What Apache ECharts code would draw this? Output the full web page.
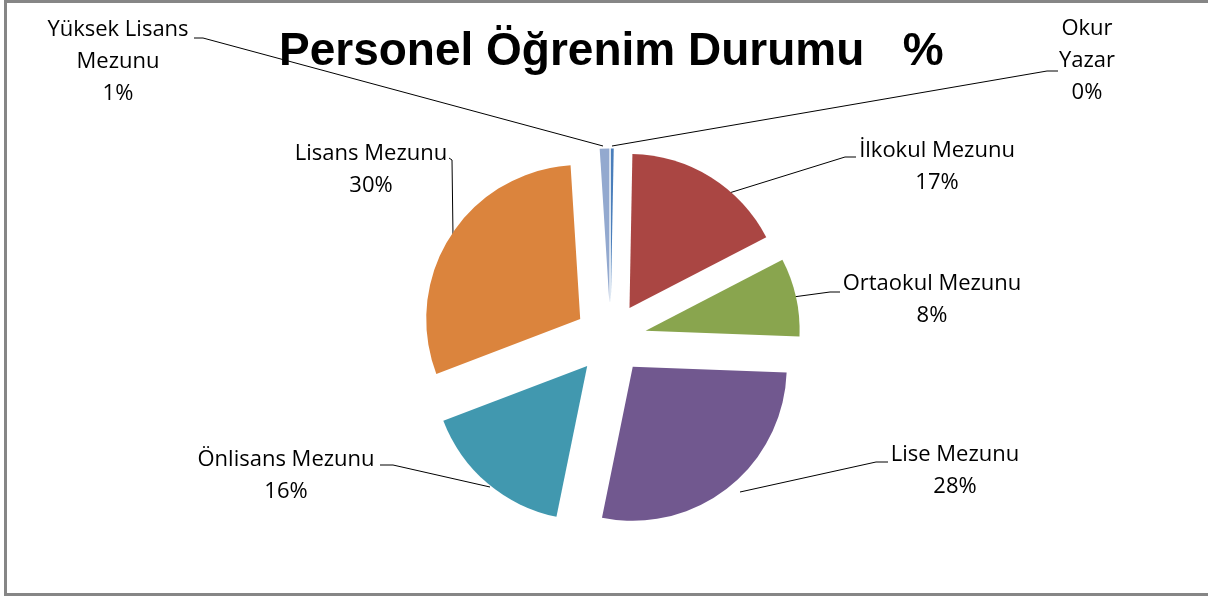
<!DOCTYPE html>
<html>
<head>
<meta charset="utf-8">
<script src="https://cdn.jsdelivr.net/npm/echarts@6/dist/echarts.min.js"></script>
<style>
  html, body { margin: 0; padding: 0; background: #fff; }
  #chart { width: 1208px; height: 596px; }
</style>
</head>
<body>
<div id="chart"></div>
<script>
// kategoriler (saat 12'den saat yönünde)
var categories = ['Okur\nYazar', 'İlkokul Mezunu', 'Ortaokul Mezunu', 'Lise Mezunu', 'Önlisans Mezunu', 'Lisans Mezunu', 'Yüksek Lisans\nMezunu'];
// yüzde değerleri
var values = [0.3, 17.1, 8.2, 27.6, 16.0, 29.8, 1.0];
var colors = ['#4a7ebb', '#aa4643', '#89a54e', '#71588f', '#4198af', '#db843d', '#93a9cf'];

// etiket yerleri ve kılavuz çizgileri (Excel'deki gibi elle yerleştirilmiş)
var labelPos = [
    { x: 1087, y: 61, line: [[612, 146], [1047, 71], [1058, 71]] },
    { x: 937, y: 167, line: [[713, 198], [845, 157], [856, 157]] },
    { x: 932, y: 300, line: [[793, 297], [830, 292], [840, 292]] },
    { x: 955, y: 471, line: [[740, 492], [876, 462], [888, 462]] },
    { x: 286, y: 476, line: [[490, 487], [393, 465], [380, 465]] },
    { x: 371, y: 170, line: [[453, 236], [452, 160], [449, 158]] },
    { x: 118, y: 62, line: [[603, 146], [203, 38], [194, 38]] }
];

var chart = echarts.init(document.getElementById('chart'));

var pieData = [];
var labelData = [];
for (var i = 0; i < categories.length; i++) {
    pieData.push({
        name: categories[i],
        value: values[i],
        selected: true,   // hepsi dışarı çekik (exploded)
        itemStyle: { color: colors[i] }
    });
    labelData.push({ name: categories[i], value: values[i] });
}

var option = {
    backgroundColor: '#fff',
    animation: false,
    title: {
        text: 'Personel Öğrenim Durumu   %',
        left: 274,
        top: 24,
        textStyle: {
            fontFamily: 'Liberation Sans',
            fontWeight: 'bold',
            fontSize: 46,
            color: '#000'
        }
    },
    graphic: [{
        type: 'rect',
        shape: { x: 5.5, y: 1.5, width: 1220, height: 593 },
        style: { fill: null, stroke: '#868686', lineWidth: 3 },
        silent: true
    }],
    series: [{
        // dilimler
        type: 'pie',
        center: [610.5, 338.5],
        radius: 154,
        startAngle: 90,
        clockwise: true,
        selectedMode: 'multiple',
        selectedOffset: 36,
        itemStyle: { borderWidth: 0 },
        select: { itemStyle: { borderWidth: 0 } },
        emphasis: { disabled: true },
        label: { show: false },
        labelLine: { show: false },
        data: pieData
    }, {
        // sadece etiketler için görünmez pasta
        type: 'pie',
        center: [610.5, 338.5],
        radius: 154,
        startAngle: 90,
        clockwise: true,
        silent: true,
        z: 1,
        avoidLabelOverlap: false,
        itemStyle: { color: 'rgba(0,0,0,0)', borderWidth: 0 },
        emphasis: { disabled: true },
        label: {
            show: true,
            position: 'outside',
            fontFamily: 'Open Sans',
            fontSize: 22,
            lineHeight: 32,
            color: '#000',
            align: 'center',
            verticalAlign: 'middle',
            formatter: function (p) {
                return p.name + '\n' + Math.round(p.percent) + '%';
            }
        },
        labelLine: {
            show: true,
            lineStyle: { color: '#000', width: 1 }
        },
        labelLayout: function (params) {
            var lp = labelPos[params.dataIndex];
            return {
                x: lp.x,
                y: lp.y,
                align: 'center',
                verticalAlign: 'middle',
                labelLinePoints: lp.line
            };
        },
        data: labelData
    }]
};

chart.setOption(option);
</script>
</body>
</html>
